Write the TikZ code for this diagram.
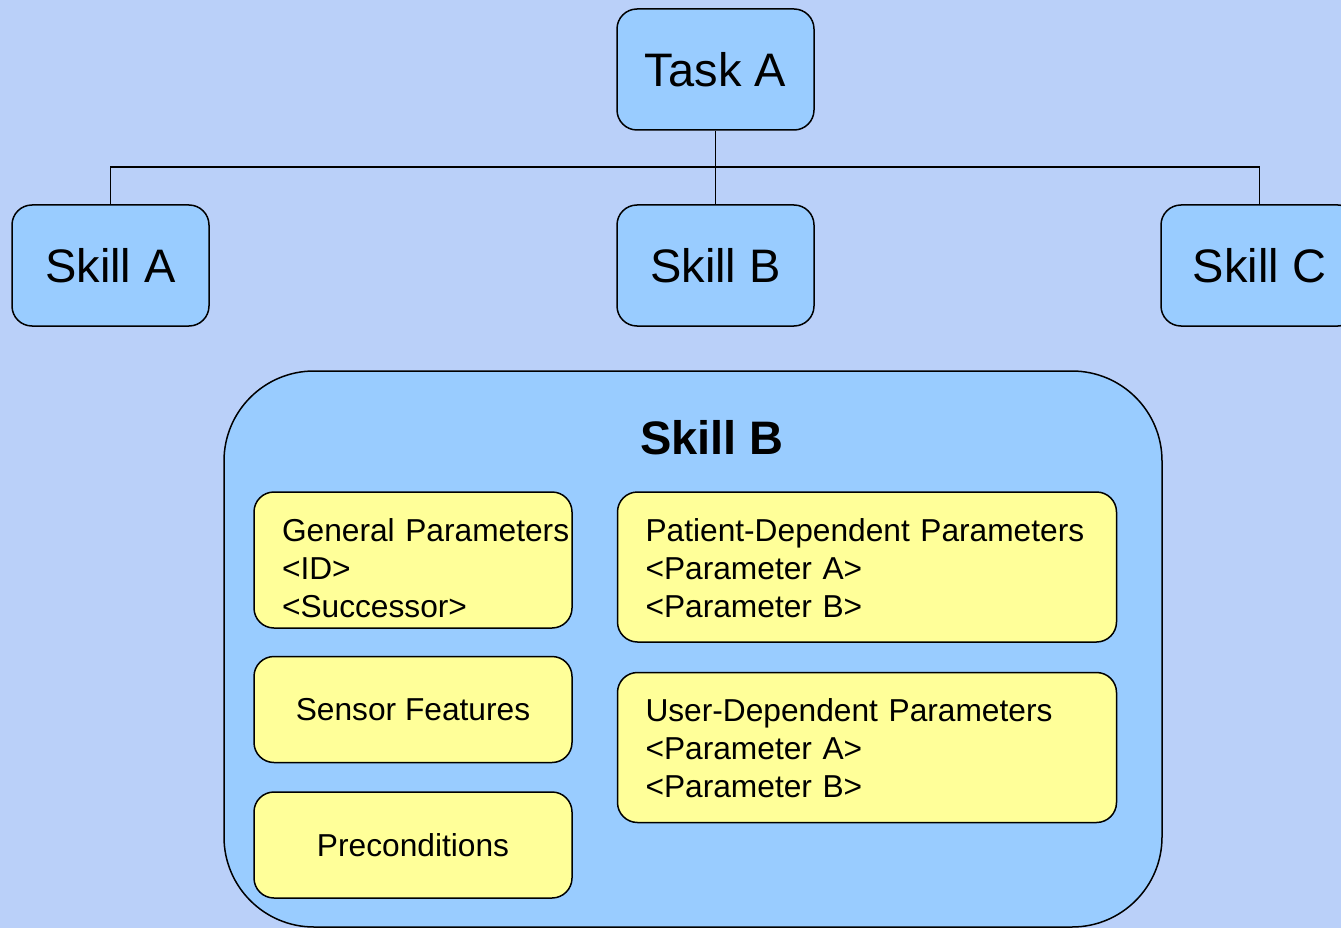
\documentclass[tikz,border=0pt]{standalone}
\usepackage{fontspec}
\setmainfont{Liberation Sans}
\usetikzlibrary{positioning}
\definecolor{pagebg}{RGB}{186,208,249}
\definecolor{skillblue}{RGB}{153,204,255}
\definecolor{paramyellow}{RGB}{255,255,153}
\begin{document}
\begin{tikzpicture}[
    x=1pt, y=-1pt,
    skillnode/.style={draw, line width=1.5pt, fill=skillblue, rounded corners=20pt,
        minimum width=197pt, minimum height=121pt, inner sep=0pt,
        font=\fontsize{47}{56}\selectfont},
    container/.style={draw, line width=1.5pt, fill=skillblue, rounded corners=90pt,
        minimum width=938pt, minimum height=556pt},
    titletext/.style={inner sep=0pt, font=\fontsize{47}{56}\selectfont\bfseries},
    parambox/.style={draw, line width=1.5pt, fill=paramyellow, rounded corners=20pt,
        minimum width=318pt, minimum height=106pt, inner sep=0pt,
        font=\fontsize{31.7}{38}\selectfont},
    listbox/.style={parambox, align=left, inner xsep=28pt, inner ysep=0pt, text height=49pt},
    link/.style={draw, line width=1.5pt}
]
    \useasboundingbox (0,0) rectangle (1341,928);
    \fill[pagebg] (0,0) rectangle (1341,928);

    % task and its skills
    \node[skillnode] (task) at (715.5,69.5) {Task A};
    \node[skillnode] (skilla) at (110.5,265.5) {Skill A};
    \node[skillnode] (skillb) at (715.5,265.5) {Skill B};
    \node[skillnode] (skillc) at (1259.5,265.5) {Skill C};
    \coordinate (bus) at (715.5,167);
    \path[link] (task) -- (skillb);
    \path[link] (skilla.north) |- (bus) -| (skillc.north);

    % detail of skill B
    \node[container] (detail) at (693,649) {};
    \node[titletext] (title) at (712,438) {Skill B};
    \node[listbox, text width=262pt, text depth=87pt] (general) at (413,560)
        {\mbox{General Parameters}\\<ID>\\<Successor>};
    \node[parambox, below=27pt of general] (sensor) {Sensor Features};
    \node[parambox, below=28pt of sensor] (precond) {Preconditions};
    \node[listbox, text width=443pt, text depth=101pt,
        right=44pt of general.north east, anchor=north west] (patient)
        {Patient-Dependent Parameters\\<Parameter A>\\<Parameter B>};
    \node[listbox, text width=443pt, text depth=101pt, below=29pt of patient] (user)
        {User-Dependent Parameters\\<Parameter A>\\<Parameter B>};
\end{tikzpicture}
\end{document}
